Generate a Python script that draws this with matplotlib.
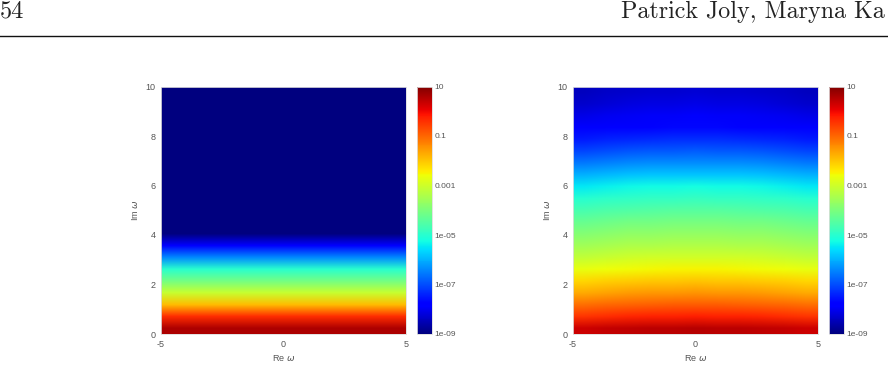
#!/usr/bin/env python3
"""
plot.py
Two log-scale jet maps of a field over the complex omega plane
"""
import numpy as np
import matplotlib.pyplot as plt
from matplotlib.colors import LogNorm

# grid: Im omega every 0.5, Re omega every 1
im_omega = np.arange(0, 10.5, 0.5)
re_omega = np.arange(-5, 6, 1)

# log10 of the field along Im omega (centre of each panel)
left_log = [0.6, -0.4, -1.9, -3.1, -4.1, -5.0, -6.4, -7.9, -9.3, -10.5, -11.5,
            -12, -12, -12, -12, -12, -12, -12, -12, -12, -12]
right_log = [0.5, -0.25, -0.9, -1.5, -2.0, -2.5, -2.95, -3.35, -3.7, -4.05, -4.45,
             -4.85, -5.25, -5.8, -6.35, -6.85, -7.3, -7.7, -7.9, -8.1, -8.25]

# small shift in log10 across Re omega (bands dip towards the edges)
left_shift = [0.0, 0.0, 0.0, 0.0, 0.0, 0.0, 0.0, 0.0, 0.0, 0.0, 0.0]
right_shift = [-0.2, -0.12, -0.06, -0.03, -0.01, 0.0, -0.01, -0.03, -0.06, -0.12, -0.2]

cbar_ticks = [1e-9, 1e-7, 1e-5, 1e-3, 1e-1, 10]
cbar_labels = ['1e-09', '1e-07', '1e-05', '0.001', '0.1', '10']

TICK_COLOR = '#555555'
plt.rcParams['axes.unicode_minus'] = False
plt.rcParams['font.family'] = ['Liberation Sans', 'DejaVu Sans']


def panel(fig, ax_rect, cb_rect, prof, shift):
    """Draw one map and its colorbar."""
    ax = fig.add_axes(ax_rect)
    cax = fig.add_axes(cb_rect)
    z = 10.0 ** (np.array(prof)[:, None] + np.array(shift)[None, :])
    norm = LogNorm(vmin=1e-9, vmax=10)
    img = ax.imshow(z, origin='lower', aspect='auto', cmap='jet', norm=norm,
                    interpolation='bilinear', interpolation_stage='rgba',
                    extent=[re_omega[0], re_omega[-1], im_omega[0], im_omega[-1]])
    ax.set_xlim(-5, 5)
    ax.set_ylim(0, 10)
    ax.set_xticks([-5, 0, 5])
    ax.set_yticks([0, 2, 4, 6, 8, 10])
    ax.tick_params(length=0, labelsize=6.5, colors=TICK_COLOR, pad=4)
    for s in ax.spines.values():
        s.set_color('#dddddd')
        s.set_linewidth(0.6)
    ax.set_xlabel(r'Re $\omega$', fontsize=6.5, color=TICK_COLOR, labelpad=3)
    ax.set_ylabel(r'Im $\omega$', fontsize=6.5, color=TICK_COLOR, labelpad=4)

    cb = fig.colorbar(img, cax=cax)
    cb.set_ticks(cbar_ticks)
    cb.set_ticklabels(cbar_labels)
    cb.ax.minorticks_off()
    cb.ax.tick_params(length=0, labelsize=6, colors=TICK_COLOR, pad=2)
    cb.outline.set_color('#dddddd')
    cb.outline.set_linewidth(0.6)


fig = plt.figure(figsize=(8.88, 3.84), dpi=100)

# page header (cut at the right edge in the source page)
fig.text(0.0, 1 - 18 / 384, '54', fontfamily='cmr10', fontsize=17.5,
         ha='left', va='baseline', color='#222222')
fig.text(621 / 888, 1 - 18 / 384, 'Patrick Joly, Maryna Ka',
         fontfamily='cmr10', fontsize=17.3, ha='left', va='baseline',
         color='#222222')
fig.add_artist(plt.Line2D([0, 1], [1 - 35.5 / 384] * 2, color='#111111',
                          linewidth=1.0, transform=fig.transFigure))

bottom = 50 / 384
height = 247.5 / 384
panel(fig, [161 / 888, bottom, 245 / 888, height],
      [417 / 888, bottom, 15 / 888, height], left_log, left_shift)
panel(fig, [573 / 888, bottom, 245 / 888, height],
      [829 / 888, bottom, 15 / 888, height], right_log, right_shift)

fig.savefig('out.png', dpi=100)
